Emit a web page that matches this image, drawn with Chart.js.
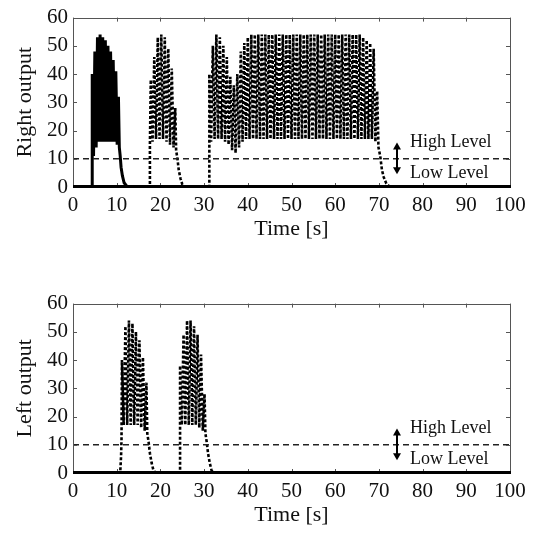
<!DOCTYPE html>
<html><head><meta charset="utf-8">
<script src="https://cdn.jsdelivr.net/npm/chart.js@4"></script>
<style>
html,body{margin:0;padding:0;background:#fff;width:538px;height:535px;overflow:hidden}
canvas{position:absolute;left:0}
#c1{top:0}
#c2{top:286px}
</style></head><body>
<canvas id="c1" width="538" height="250"></canvas>
<canvas id="c2" width="538" height="250"></canvas>
<script>
// ---------- data ----------
const xLabel = 'Time [s]';
const topYLabel = 'Right output';
const bottomYLabel = 'Left output';
const highText = 'High Level';
const lowText = 'Low Level';
const thresholdLine = [[0, 10], [100, 10]];

// Right output, solid trace (burst 4.4–10.4 s)
const rightSolidLead = [[0, 0], [4.4, 0]];
const rightB1Start = 4.4, rightB1Step = 0.3;
const rightB1Peaks   = [40, 48, 53, 54, 53, 52, 50, 48, 45, 41, 32];
const rightB1Troughs = [11, 14, 16, 16, 16, 16, 16, 16, 16, 15];
const rightB1Tail = [[10.6, 14], [10.8, 11], [11.0, 7], [11.3, 4], [11.7, 1.5], [12.3, 0.3], [13.0, 0], [100, 0]];

// Right output, dotted trace
const rightDotLead = [[0, 0], [17.6, 0], [17.6, 15]];
const rightB2Start = 17.8, rightB2Step = 0.4;
const rightB2Peaks   = [38, 46, 53, 54, 53, 49, 42, 28];
const rightB2Troughs = [16, 17, 17, 17, 16, 15, 14];
const rightB2Tail = [[23.6, 13], [23.9, 10], [24.2, 6], [24.6, 3], [25.0, 1], [25.5, 0], [31.2, 0]];
const rightB3Start = 31.2, rightB3Step = 0.4;
const rightB3Peaks = [40, 50, 54, 53, 50, 46, 39, 36, 40, 48, 51, 53, 54,
  54, 54, 54, 54, 54, 54, 54, 54, 54, 54,
  54, 54, 54, 54, 54, 54, 54, 54, 54, 54,
  54, 54, 54, 54, 54, 54, 54, 54, 54, 54,
  54, 53, 52, 51, 49, 34];
const rightB3Troughs = [16, 17, 17, 17, 16, 15, 13, 12, 14, 16,
  17, 17, 17, 17, 17, 17, 17, 17, 17, 17,
  17, 17, 17, 17, 17, 17, 17, 17, 17, 17,
  17, 17, 17, 17, 17, 17, 17, 17, 17, 17,
  17, 17, 17, 17, 17, 17, 17, 16];
const rightB3Tail = [[69.9, 14], [70.3, 11], [70.7, 6], [71.1, 3.5], [71.7, 1.2], [72.5, 0], [100, 0]];

// Left output, solid trace
const leftSolid = [[0, 0], [100, 0]];
// Left output, dotted trace
const leftDotLead = [[0, 0], [10.8, 0], [11.0, 6], [11.1, 12]];
const leftB1Start = 11.2, leftB1Step = 0.4;
const leftB1Peaks   = [40, 52, 54, 53, 50, 47, 41, 32];
const leftB1Troughs = [17, 17, 17, 17, 17, 16, 15];
const leftB1Tail = [[17.0, 14], [17.3, 11], [17.6, 7], [18.0, 3.5], [18.4, 1], [18.9, 0], [24.5, 0]];
const leftB2Start = 24.5, leftB2Step = 0.4;
const leftB2Peaks   = [38, 49, 54, 54, 52, 49, 42, 28];
const leftB2Troughs = [17, 17, 17, 17, 17, 16, 15];
const leftB2Tail = [[30.3, 14], [30.6, 11], [30.9, 7], [31.3, 3.5], [31.7, 1], [32.2, 0], [100, 0]];

// ---------- helpers ----------
function pts(arr) { return arr.map(p => ({x: p[0], y: p[1]})); }
function burst(start, step, peaks, troughs) {
  const out = [];
  const n = peaks.length + troughs.length;
  for (let i = 0; i < n; i++) {
    const v = (i % 2 === 0) ? peaks[i / 2] : troughs[(i - 1) / 2];
    out.push({x: +(start + i * step).toFixed(2), y: v});
  }
  return out;
}

const topSolid = [].concat(pts(rightSolidLead), burst(rightB1Start, rightB1Step, rightB1Peaks, rightB1Troughs), pts(rightB1Tail));
const topDotted = [].concat(pts(rightDotLead), burst(rightB2Start, rightB2Step, rightB2Peaks, rightB2Troughs), pts(rightB2Tail),
  burst(rightB3Start, rightB3Step, rightB3Peaks, rightB3Troughs), pts(rightB3Tail));
const botSolid = pts(leftSolid);
const botDotted = [].concat(pts(leftDotLead), burst(leftB1Start, leftB1Step, leftB1Peaks, leftB1Troughs), pts(leftB1Tail),
  burst(leftB2Start, leftB2Step, leftB2Peaks, leftB2Troughs), pts(leftB2Tail));

// ---------- styling ----------
const SERIF = "'Liberation Serif', 'Times New Roman', serif";
const annot = {arrowX: 74.1, arrowTop: 15.8, arrowBottom: 4.5, textX: 77.1, highY: 15.8, lowY: 5.0};

const framePlugin = {
  id: 'frame',
  afterDatasetsDraw(chart) {
    const {ctx, chartArea: a, scales: {x, y}} = chart;
    ctx.save();
    ctx.strokeStyle = '#555';
    ctx.lineWidth = 1;
    ctx.strokeRect(Math.round(a.left) + 0.5, Math.round(a.top) + 0.5, Math.round(a.right - a.left), Math.round(a.bottom - a.top));
    const tl = 4;
    ctx.beginPath();
    x.ticks.forEach(t => {
      const px = Math.round(x.getPixelForValue(t.value)) + 0.5;
      ctx.moveTo(px, a.bottom); ctx.lineTo(px, a.bottom - tl);
      ctx.moveTo(px, a.top); ctx.lineTo(px, a.top + tl);
    });
    y.ticks.forEach(t => {
      const py = Math.round(y.getPixelForValue(t.value)) + 0.5;
      ctx.moveTo(a.left, py); ctx.lineTo(a.left + tl, py);
      ctx.moveTo(a.right, py); ctx.lineTo(a.right - tl, py);
    });
    ctx.stroke();
    ctx.fillStyle = '#000';
    ctx.fillRect(Math.round(a.left), Math.round(a.bottom) - 2, Math.round(a.right - a.left) + 1, 3);

    const ax = Math.round(x.getPixelForValue(annot.arrowX));
    const yt = y.getPixelForValue(annot.arrowTop);
    const yb = y.getPixelForValue(annot.arrowBottom);
    ctx.strokeStyle = '#000';
    ctx.lineWidth = 2;
    ctx.beginPath();
    ctx.moveTo(ax, yt + 5); ctx.lineTo(ax, yb - 5);
    ctx.stroke();
    ctx.beginPath();
    ctx.moveTo(ax, yt); ctx.lineTo(ax - 4, yt + 7); ctx.lineTo(ax + 4, yt + 7); ctx.closePath();
    ctx.fill();
    ctx.beginPath();
    ctx.moveTo(ax, yb); ctx.lineTo(ax - 4, yb - 7); ctx.lineTo(ax + 4, yb - 7); ctx.closePath();
    ctx.fill();
    ctx.font = '18px ' + SERIF;
    ctx.textAlign = 'left';
    ctx.textBaseline = 'middle';
    ctx.fillStyle = '#111';
    const tx = x.getPixelForValue(annot.textX);
    ctx.fillText(highText, tx, y.getPixelForValue(annot.highY));
    ctx.fillText(lowText, tx, y.getPixelForValue(annot.lowY));
    ctx.restore();
  }
};

function makeChart(id, yTitle, solid, dotted) {
  return new Chart(document.getElementById(id), {
    type: 'line',
    data: {
      datasets: [
        {data: pts(thresholdLine), borderColor: '#222', borderWidth: 1.5, borderDash: [6, 4]},
        {data: solid, borderColor: '#000', borderWidth: 3},
        {data: dotted, borderColor: '#000', borderWidth: 2.6, borderDash: [3, 2]}
      ]
    },
    options: {
      responsive: false,
      animation: false,
      devicePixelRatio: 1,
      layout: {padding: {left: 0, right: 28, top: 15, bottom: 0}},
      plugins: {legend: {display: false}, tooltip: {enabled: false}},
      elements: {point: {radius: 0}, line: {tension: 0, fill: false}},
      scales: {
        x: {
          type: 'linear', min: 0, max: 100,
          ticks: {stepSize: 10, padding: 6, color: '#111', maxRotation: 0, autoSkip: false,
                  font: {family: SERIF, size: 21}},
          grid: {display: false, drawTicks: false},
          border: {display: false},
          title: {display: true, text: xLabel, color: '#111', font: {family: SERIF, size: 22},
                  padding: {top: 0, bottom: 8}},
          afterFit(s) { s.height = 63; }
        },
        y: {
          min: 0, max: 60,
          ticks: {stepSize: 10, padding: 5, color: '#111', font: {family: SERIF, size: 21}},
          grid: {display: false, drawTicks: false},
          border: {display: false},
          title: {display: true, text: yTitle, color: '#111', font: {family: SERIF, size: 22},
                  padding: {top: 12, bottom: 0}},
          afterFit(s) { s.width = 73; }
        }
      }
    },
    plugins: [framePlugin]
  });
}

makeChart('c1', topYLabel, topSolid, topDotted);
makeChart('c2', bottomYLabel, botSolid, botDotted);
</script>
</body></html>
